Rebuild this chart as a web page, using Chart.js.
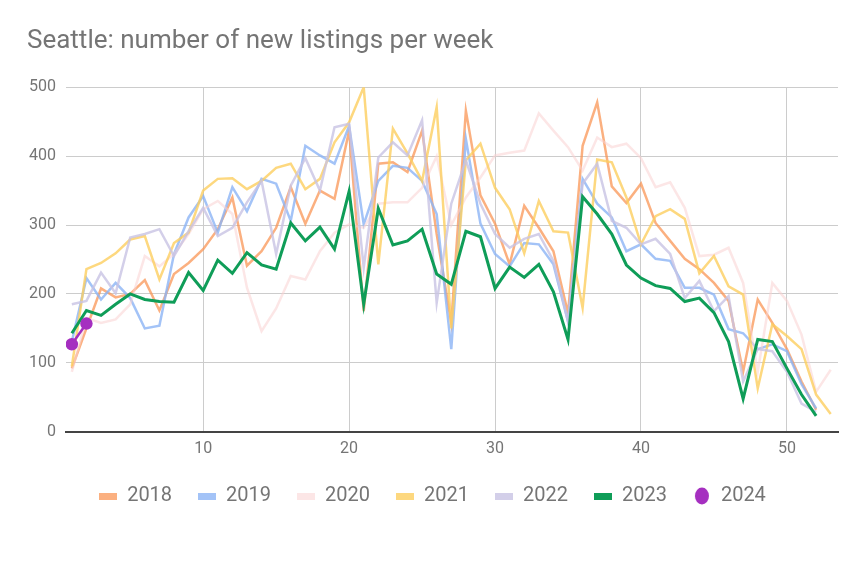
<!DOCTYPE html>
<html>
<head>
<meta charset="utf-8">
<script src="https://cdn.jsdelivr.net/npm/chart.js@4.4.1/dist/chart.umd.min.js"></script>
<style>
  html, body { margin: 0; padding: 0; background: #fff; }
  #wrap { width: 864px; height: 576px; }
</style>
</head>
<body>
<div id="wrap"><canvas id="listingsChart" width="864" height="576"></canvas></div>
<script>

var years = ["2018", "2019", "2020", "2021", "2022", "2023", "2024"];
var xTicks = [10, 20, 30, 40, 50];
var yTicks = [0, 100, 200, 300, 400, 500];

var y2018 = [92, 150, 208, 195, 200, 220, 176, 229, 245, 265, 294, 340, 241, 262, 296, 355, 302, 350, 338, 437,
  175, 389, 391, 377, 437, 287, 158, 466, 343, 302, 243, 328, 296, 262, 172, 415, 478, 356, 332, 360,
  303, 277, 251, 236, 216, 190, 87, 192, 158, 120, 73, 32];
var y2019 = [131, 223, 192, 216, 194, 150, 154, 258, 311, 342, 289, 355, 320, 367, 360, 306, 415, 401, 389, 444,
  301, 364, 386, 383, 364, 316, 120, 425, 302, 258, 240, 274, 272, 243, 160, 367, 331, 311, 262, 272,
  251, 248, 209, 209, 199, 149, 143, 120, 127, 117, 69, 34];
var y2020 = [87, 165, 158, 163, 185, 255, 240, 258, 287, 323, 335, 316, 209, 146, 179, 226, 221, 262, 289, 301,
  296, 331, 333, 333, 354, 400, 300, 340, 369, 401, 405, 408, 462, 437, 413, 379, 427, 413, 418, 397,
  355, 362, 325, 255, 257, 267, 216, 87, 216, 190, 141, 58, 90];
var y2021 = [95, 236, 245, 259, 279, 284, 221, 274, 289, 350, 367, 368, 352, 364, 383, 389, 352, 367, 420, 449,
  500, 243, 440, 404, 364, 471, 150, 394, 418, 354, 323, 259, 335, 291, 289, 180, 395, 391, 340, 272,
  313, 323, 309, 230, 255, 211, 199, 63, 156, 139, 120, 54, 26];
var y2022 = [185, 190, 231, 201, 282, 287, 294, 255, 291, 325, 284, 296, 333, 364, 258, 357, 397, 350, 442, 447,
  238, 398, 420, 401, 452, 187, 331, 394, 331, 287, 267, 280, 287, 248, 160, 360, 389, 306, 296, 272,
  280, 258, 194, 219, 175, 197, 73, 120, 117, 87, 41, 29];
var y2023 = [143, 176, 169, 185, 200, 192, 189, 188, 231, 205, 249, 230, 260, 242, 236, 303, 277, 297, 265, 349,
  185, 324, 271, 277, 294, 229, 214, 291, 283, 208, 239, 224, 243, 203, 134, 341, 316, 287, 242, 223,
  212, 208, 189, 194, 173, 131, 48, 134, 131, 92, 54, 23];
var y2024 = [127, 157];

var seriesValues = [y2018, y2019, y2020, y2021, y2022, y2023, y2024];
var seriesColors = [
  "rgba(250, 150, 85, 0.75)",
  "rgba(140, 180, 245, 0.8)",
  "rgba(250, 210, 210, 0.55)",
  "rgba(253, 206, 95, 0.8)",
  "rgba(200, 195, 228, 0.8)",
  "#0f9d58",
  "#a52fc0"
];

function toPoints(values) {

  var points = [];
  for (var i = 0; i < values.length; i++) {
    points.push({ x: i + 1, y: values[i] });
  }
  return points;
}

function swatch(color, isDot) {

  var c = document.createElement("canvas");
  var ctx = c.getContext("2d");
  if (isDot) {
    c.width = 16;
    c.height = 18;
    ctx.fillStyle = color;
    ctx.beginPath();
    ctx.ellipse(8, 9, 7, 8.5, 0, 0, Math.PI * 2);
    ctx.fill();
  } else {
    c.width = 18;
    c.height = 7;
    ctx.fillStyle = color;
    ctx.fillRect(0, 0, 18, 7);
  }
  return c;
}

function buildDatasets() {

  var datasets = [];
  for (var i = 0; i < years.length; i++) {
    var isDot = years[i] === "2024";
    datasets.push({
      label: years[i],
      data: toPoints(seriesValues[i]),
      borderColor: seriesColors[i],
      backgroundColor: seriesColors[i],
      borderWidth: years[i] === "2023" ? 3 : 2.5,
      pointRadius: isDot ? 5 : 0,
      pointHoverRadius: isDot ? 5 : 0,
      pointStyle: "circle",
      tension: 0,
      order: years.length - i
    });
  }
  return datasets;
}

function drawChart() {

  var ctx = document.getElementById("listingsChart").getContext("2d");
  Chart.defaults.font.family = "Roboto, 'Noto Sans', sans-serif";
  Chart.defaults.color = "#757575";

  var chart = new Chart(ctx, {

    type: "line",

    data: {
      datasets: buildDatasets()
    },

    options: {
      responsive: false,
      animation: false,
      layout: {
        padding: { top: 26, left: 27, right: 26, bottom: 60 }
      },
      plugins: {
        title: {
          display: true,
          text: "Seattle: number of new listings per week",
          align: "start",
          color: "#757575",
          font: { size: 26, weight: "normal" },
          padding: { top: 0, bottom: 30 }
        },
        legend: {
          position: "bottom",
          labels: {
            usePointStyle: true,
            boxWidth: 18,
            boxHeight: 8,
            padding: 26,
            color: "#757575",
            font: { size: 20 },
            sort: function(a, b) { return a.text.localeCompare(b.text); },
            generateLabels: function(chart) {
              var items = Chart.defaults.plugins.legend.labels.generateLabels(chart);
              for (var i = 0; i < items.length; i++) {
                var idx = items[i].datasetIndex;
                items[i].pointStyle = swatch(seriesColors[idx], years[idx] === "2024");
              }
              return items;
            }
          }
        },
        tooltip: { enabled: false }
      },
      scales: {
        x: {
          type: "linear",
          min: 0.6,
          max: 53.5,
          afterBuildTicks: function(scale) {
            scale.ticks = xTicks.map(function(v) { return { value: v }; });
          },
          afterFit: function(scale) {
            scale.height = scale.height - 7;
          },
          grid: { color: "#cccccc", lineWidth: 1, drawTicks: false },
          border: { color: "#444444", width: 2 },
          ticks: { font: { size: 16 }, color: "#757575", padding: 8 }
        },
        y: {
          min: 0,
          max: 500,
          afterBuildTicks: function(scale) {
            scale.ticks = yTicks.map(function(v) { return { value: v }; });
          },
          afterFit: function(scale) {
            scale.width = 39;
          },
          grid: {
            color: function(c) { return c.tick && c.tick.value === 0 ? "rgba(0,0,0,0)" : "#cccccc"; },
            lineWidth: 1,
            drawTicks: false
          },
          border: { display: false },
          ticks: { font: { size: 16 }, color: "#757575", padding: 10 }
        }
      }
    }
  });
}

drawChart();
</script>
</body>
</html>
